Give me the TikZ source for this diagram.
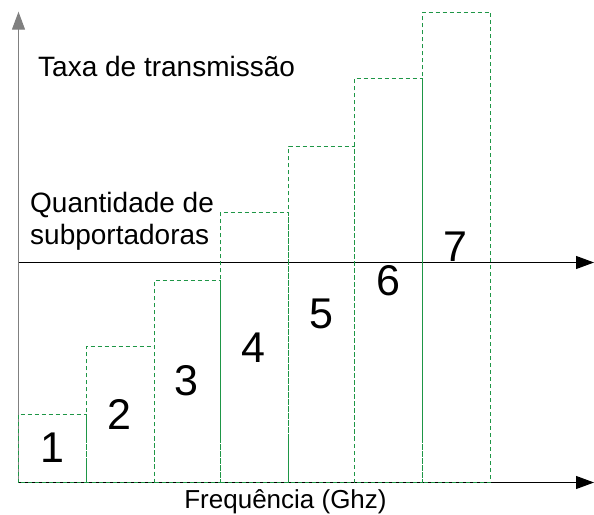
\documentclass[tikz,border=0pt]{standalone}
\usepackage{fontspec}
\setmainfont{Liberation Sans}
\usetikzlibrary{arrows.meta}
\definecolor{verdebarra}{RGB}{30,150,70}
\begin{document}
\begin{tikzpicture}[x=1pt,y=1pt,>={Triangle[length=18pt,width=13pt]},
		barra/.style={draw=verdebarra,dash pattern=on 4pt off 3pt,line width=1pt},
		eixo/.style={->,line width=1pt},
		rotulo/.style={inner sep=0pt,align=left,font=\fontsize{28}{32}\selectfont},
		numero/.style={inner sep=0pt,font=\fontsize{43}{48}\selectfont}]
			\useasboundingbox (0,0) rectangle (594,514);
			\coordinate (O) at (18.5,31.5);
			\coordinate (Y) at (18.5,502.3);
			\coordinate (X) at (594,31.5);
			\coordinate (M0) at (18.5,251.5);
			\coordinate (M) at (594,251.5);
			\draw[eixo,draw=gray,fill=black,line width=1.2pt] (O)--(Y);
			\draw[eixo] (O)--(X);
			\draw[eixo] (M0)--(M);
			% barras
			\foreach \xa/\xb/\yt in {18.5/86.5/99.5,86.5/154.5/167.5,154.5/220.5/233.5,220.5/288.5/301.5,288.5/354.5/367.5,354.5/422.5/435.5,422.5/490.5/501.5}
				\draw[barra] (\xa,31.5) rectangle (\xb,\yt);
			\foreach \i in {1,...,7}
				\node[numero] (n\i) at ({52+67.3*(\i-1)},{66+33.5*(\i-1)}) {\i};
			\node[rotulo,anchor=base west] (taxa) at (38,437) {Taxa de transmissão};
			\node[rotulo,anchor=base west] (qtd) at (30,269) {Quantidade de\\subportadoras};
			\node[inner sep=0pt,anchor=base,font=\fontsize{26}{30}\selectfont] (freq) at (285.5,6) {Frequência (Ghz)};
		\end{tikzpicture}
\end{document}
